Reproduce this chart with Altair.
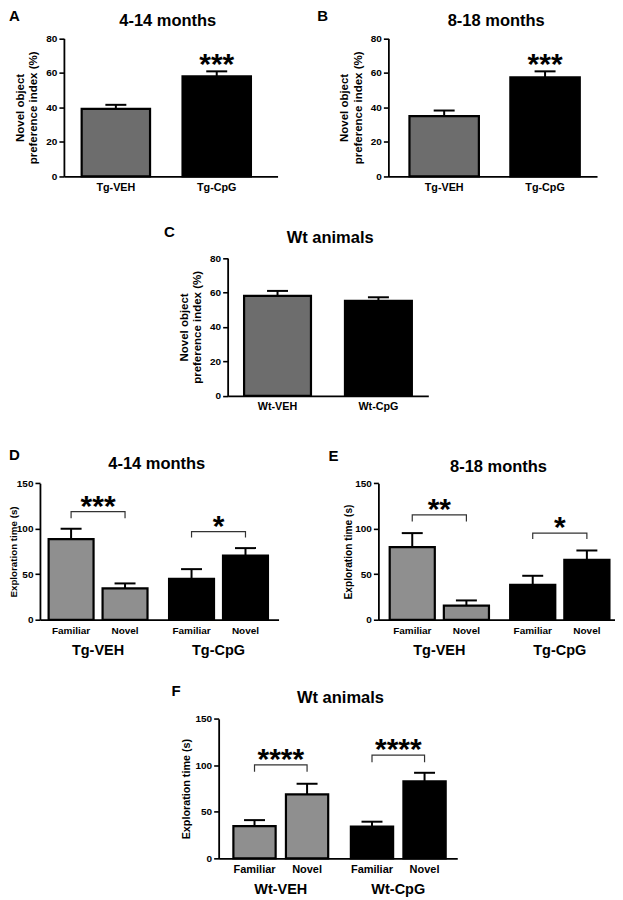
import altair as alt
import pandas as pd

FONT = "Liberation Sans"

# ---------------- data ----------------
ab_categories = ["Tg-VEH", "Tg-CpG"]
c_categories = ["Wt-VEH", "Wt-CpG"]
a_mean = [39.2, 58.0]
a_sem = [2.3, 2.9]
a_stars = ["", "***"]
b_mean = [34.9, 57.4]
b_sem = [3.3, 3.5]
b_stars = ["", "***"]
c_mean = [58.0, 55.1]
c_sem = [2.9, 2.1]
c_stars = ["", ""]
index_ticks = [0, 20, 40, 60, 80]

tg_groups = ["Tg-VEH", "Tg-CpG"]
wt_groups = ["Wt-VEH", "Wt-CpG"]
objects = ["Familiar", "Novel"]
time_ticks = [0, 50, 100, 150]
d_mean = [88.6, 34.4, 45.0, 70.6]
d_sem = [11.3, 5.5, 10.6, 8.1]
d_bracket_top = [118.9, 96.9]
d_bracket_low = [111.6, 90.3]
d_stars = ["***", "*"]
e_mean = [79.8, 15.4, 38.4, 65.9]
e_sem = [15.4, 5.8, 9.9, 10.2]
e_bracket_top = [115.3, 95.2]
e_bracket_low = [107.9, 88.6]
e_stars = ["**", "*"]
f_mean = [34.7, 68.7, 34.0, 82.7]
f_sem = [6.4, 11.5, 5.4, 9.3]
f_bracket_top = [100.6, 111.0]
f_bracket_low = [93.1, 103.4]
f_stars = ["****", "****"]

panel_letters = ["A", "B", "C", "D", "E", "F"]
panel_titles = ["4-14 months", "8-18 months", "Wt animals", "4-14 months", "8-18 months", "Wt animals"]
index_title = ["Novel object", "preference index (%)"]
time_title = "Exploration time (s)"

# ---------------- layout (pixels) ----------------
W, H = 607, 884
GRAY_DARK = "#6d6d6d"
GRAY_LIGHT = "#8f8f8f"

LAY = {
    "A": dict(xr=[55, 269], pi=0.322, po=0.22, al=0.40, yr=[168, 29.7], yoff=-55, xoff=168 - H, tpad=7, tsize=11.5),
    "B": dict(xr=[380, 589], pi=0.312, po=0.19, al=0.55, yr=[168, 29.7], yoff=-380, xoff=168 - H, tpad=7, tsize=11.5),
    "C": dict(xr=[219, 420], pi=0.337, po=0.163, al=0.5, yr=[387.7, 249.7], yoff=-219, xoff=387.7 - H, tpad=7, tsize=11.5),
    "D": dict(xr=[31, 270], pi=0.179, po=0.08, al=0.45, spi=0.167, yr=[612, 475.3], yoff=-31, xoff=612 - H,
              tpad=-2, tsize=9.8, lsize=10, ldy=14.5),
    "E": dict(xr=[370, 607], pi=0.176, po=0.07, al=0.67, spi=0.167, yr=[612, 475.3], yoff=-370, xoff=612 - H,
              tpad=1, tsize=10.2, lsize=10, ldy=14.5),
    "F": dict(xr=[210, 449], pi=0.193, po=0.112, al=0.56, spi=0.196, yr=[851, 711.3], yoff=-210, xoff=851 - H,
              tpad=4, tsize=10.8, lsize=11, ldy=15),
}
TITLE_POS = [(159, 17), (488, 17), (321.7, 234.7), (148, 461.3), (490.3, 463.7), (332, 695.3)]
LETTER_POS = [(0, 12), (308.7, 12), (155.3, 228.7), (0, 452), (320, 452.7), (162.7, 688.7)]
STAR_SIZE = 30
STAR_DY = 3


def y_axis(lay, ticks, title):
    return alt.Axis(values=ticks, orient="left", offset=lay["yoff"], grid=False,
                    domainColor="black", domainWidth=1.8, tickColor="black", tickWidth=1.6, tickSize=5,
                    labelFont=FONT, labelFontWeight="bold", labelFontSize=10, labelColor="black",
                    labelPadding=2, title=title, titleFont=FONT, titleFontWeight="bold",
                    titleFontSize=lay["tsize"], titleColor="black", titlePadding=lay["tpad"])


def x_axis(lay, size, pad):
    return alt.Axis(orient="bottom", offset=lay["xoff"], ticks=False, labelAngle=0,
                    domainColor="black", domainWidth=1.8, labelFont=FONT, labelFontWeight="bold",
                    labelFontSize=size, labelColor="black", labelPadding=pad, title=None)


def simple_panel(cats, means, sems, stars, lay):
    df = pd.DataFrame({"cat": cats, "mean": means,
                       "upper": [m + s for m, s in zip(means, sems)], "stars": stars})
    xs = alt.Scale(domain=cats, range=lay["xr"], paddingInner=lay["pi"], paddingOuter=lay["po"], align=lay["al"])
    X = alt.X("cat:N", sort=cats, scale=xs, axis=x_axis(lay, 10.8, 5))
    ys = alt.Scale(domain=[0, 80], range=lay["yr"], nice=False)
    ya = y_axis(lay, index_ticks, index_title)

    def Y(f):
        return alt.Y(f, type="quantitative", scale=ys, axis=ya)

    base = alt.Chart(df)
    bars = base.mark_bar(stroke="black", strokeWidth=2.2).encode(
        x=X, y=Y("mean"),
        fill=alt.Fill("cat:N", scale=alt.Scale(domain=cats, range=[GRAY_DARK, "#000000"]), legend=None))
    err = base.mark_rule(color="black", strokeWidth=2).encode(x=X, y=Y("mean"), y2="upper")
    cap = base.mark_tick(color="black", size=21, thickness=2, opacity=1).encode(x=X, y=Y("upper"))
    st = base.mark_text(font=FONT, fontWeight="bold", fontSize=STAR_SIZE, baseline="alphabetic",
                        dy=STAR_DY, color="black").encode(x=X, y=Y("upper"), text="stars:N")
    return alt.layer(bars, err, cap, st)


def grouped_panel(groups, means, sems, btop, blow, stars, lay):
    rows = []
    i = 0
    for g in groups:
        for o in objects:
            rows.append({"group": g, "object": o, "mean": means[i], "upper": means[i] + sems[i]})
            i += 1
    df = pd.DataFrame(rows)
    br = []
    for k, g in enumerate(groups):
        br += [{"group": g, "object": objects[0], "y": blow[k], "ord": 0},
               {"group": g, "object": objects[0], "y": btop[k], "ord": 1},
               {"group": g, "object": objects[1], "y": btop[k], "ord": 2},
               {"group": g, "object": objects[1], "y": blow[k], "ord": 3}]
    bdf = pd.DataFrame(br)
    sdf = pd.DataFrame({"group": groups, "y": btop, "stars": stars})

    xs = alt.Scale(domain=groups, range=lay["xr"], paddingInner=lay["pi"], paddingOuter=lay["po"], align=lay["al"])
    X = alt.X("group:N", sort=groups, scale=xs, axis=x_axis(lay, 14.5, 24))
    XO = alt.XOffset("object:N", sort=objects,
                     scale=alt.Scale(domain=objects, paddingInner=lay["spi"], paddingOuter=0))
    ys = alt.Scale(domain=[0, 150], range=lay["yr"], nice=False)
    ya = y_axis(lay, time_ticks, time_title)

    def Y(f):
        return alt.Y(f, type="quantitative", scale=ys, axis=ya)

    base = alt.Chart(df)
    bars = base.mark_bar(stroke="black", strokeWidth=2.2).encode(
        x=X, xOffset=XO, y=Y("mean"),
        fill=alt.Fill("group:N", scale=alt.Scale(domain=groups, range=[GRAY_LIGHT, "#000000"]), legend=None))
    err = base.mark_rule(color="black", strokeWidth=2).encode(x=X, xOffset=XO, y=Y("mean"), y2="upper")
    cap = base.mark_tick(color="black", size=21, thickness=2, opacity=1).encode(x=X, xOffset=XO, y=Y("upper"))
    labels = base.mark_text(font=FONT, fontWeight="bold", fontSize=lay["lsize"], baseline="alphabetic",
                            dy=lay["ldy"], color="black").encode(
        x=X, xOffset=XO, y=alt.YDatum(0, type="quantitative", scale=ys, axis=ya), text="object:N")
    brackets = alt.Chart(bdf).mark_line(color="#333333", strokeWidth=1.2).encode(
        x=X, xOffset=XO, y=Y("y"), order="ord:Q", detail="group:N")
    st = alt.Chart(sdf).mark_text(font=FONT, fontWeight="bold", fontSize=STAR_SIZE, baseline="alphabetic",
                                  dy=STAR_DY + 1, color="black").encode(x=X, y=Y("y"), text="stars:N")
    return alt.layer(bars, err, cap, labels, brackets, st)


pA = simple_panel(ab_categories, a_mean, a_sem, a_stars, LAY["A"])
pB = simple_panel(ab_categories, b_mean, b_sem, b_stars, LAY["B"])
pC = simple_panel(c_categories, c_mean, c_sem, c_stars, LAY["C"])
pD = grouped_panel(tg_groups, d_mean, d_sem, d_bracket_top, d_bracket_low, d_stars, LAY["D"])
pE = grouped_panel(tg_groups, e_mean, e_sem, e_bracket_top, e_bracket_low, e_stars, LAY["E"])
pF = grouped_panel(wt_groups, f_mean, f_sem, f_bracket_top, f_bracket_low, f_stars, LAY["F"])

texts = []
for t, (x, y) in zip(panel_titles, TITLE_POS):
    texts.append(alt.Chart(pd.DataFrame({"t": [t]})).mark_text(
        font=FONT, fontWeight="bold", fontSize=16.5, align="center", baseline="alphabetic", color="black"
    ).encode(text="t:N", x=alt.value(x), y=alt.value(y)))
for t, (x, y) in zip(panel_letters, LETTER_POS):
    texts.append(alt.Chart(pd.DataFrame({"t": [t]})).mark_text(
        font=FONT, fontWeight="bold", fontSize=15, align="left", baseline="alphabetic", color="black"
    ).encode(text="t:N", x=alt.value(x), y=alt.value(y)))

chart = alt.layer(pA, pB, pC, pD, pE, pF, *texts).resolve_scale(
    x="independent", y="independent", fill="independent", xOffset="independent"
).resolve_axis(x="independent", y="independent").properties(
    width=W, height=H, padding=0
).configure_view(strokeWidth=0)

chart.save("out.html", embed_options={"renderer": "svg", "actions": False})
